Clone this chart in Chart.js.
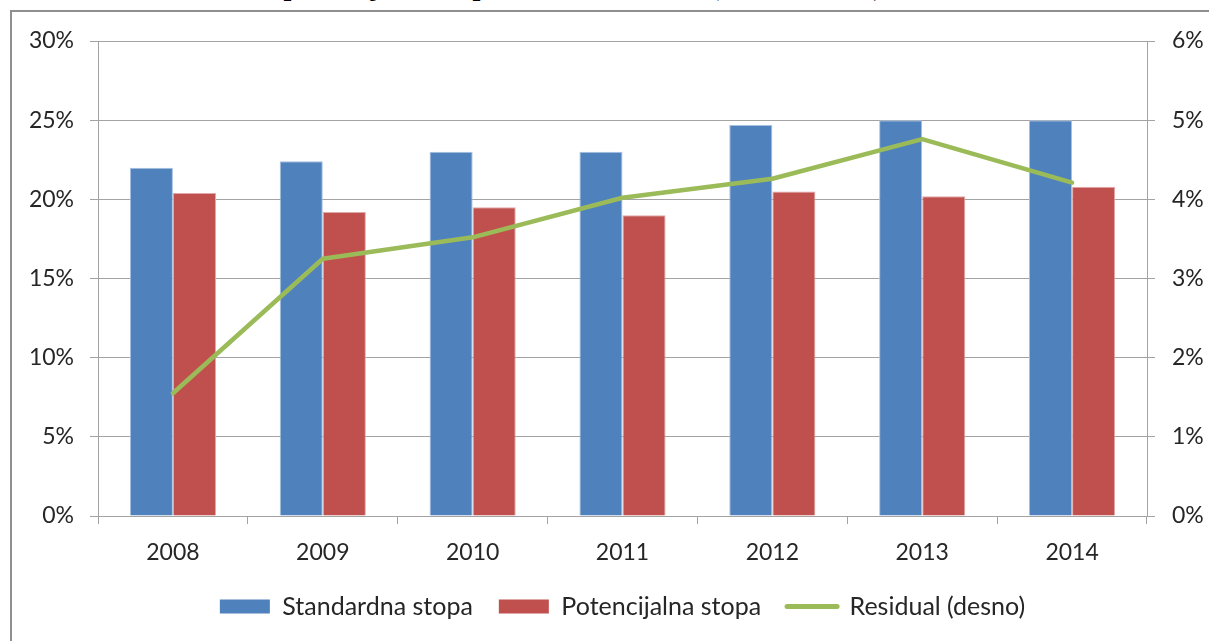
<!DOCTYPE html>
<html>
<head>
<meta charset="utf-8">
<script src="https://cdn.jsdelivr.net/npm/chart.js@4"></script>
<style>
  html, body { margin: 0; padding: 0; background: #fff; }
  #wrap { position: relative; width: 1209px; height: 641px; overflow: hidden; background: #fff; }
  #c { position: absolute; left: 0; top: 0; }
  #frame { position: absolute; left: 10px; top: 10px; width: 1300px; height: 700px;
           border-left: 2px solid #8f8f8f; border-top: 2px solid #8f8f8f; pointer-events: none; }
  #title { position: absolute; left: 120px; top: -30px; font: bold 28px "Liberation Serif", "Times New Roman", serif;
           color: #000; white-space: nowrap; line-height: 31px; }
</style>
</head>
<body>
<div id="wrap">
  <div id="title">Standardna i potencijalna stopa te rezidualni dio (2008. – 2014.)</div>
  <canvas id="c" width="1209" height="641"></canvas>
  <div id="frame"></div>
</div>
<script>
const categories = ['2008', '2009', '2010', '2011', '2012', '2013', '2014'];
const standardnaStopa = [22.0, 22.4, 23.0, 23.0, 24.7, 25.0, 25.0];
const potencijalnaStopa = [20.4, 19.2, 19.5, 19.0, 20.5, 20.2, 20.8];
const residualDesno = [1.55, 3.25, 3.52, 4.02, 4.26, 4.76, 4.21];
const leftTicks = [0, 5, 10, 15, 20, 25, 30];
const rightTicks = [0, 1, 2, 3, 4, 5, 6];
const seriesNames = ['Standardna stopa', 'Potencijalna stopa', 'Residual (desno)'];

const TICKFONT = { family: 'Lato, "Open Sans", sans-serif', size: 23 };
const LEGFONT = { family: 'Lato, "Open Sans", sans-serif', size: 25 };
const TXT = '#262626';
const GRID = '#a3a3a3';

const baseGen = (Chart.defaults.plugins.legend && Chart.defaults.plugins.legend.labels.generateLabels)
  || Chart.registry.getPlugin('legend').defaults.labels.generateLabels;

new Chart(document.getElementById('c'), {
  type: 'bar',
  data: {
    labels: categories,
    datasets: [
      { label: seriesNames[0], data: standardnaStopa, backgroundColor: '#4f81bd', borderColor: '#a7c0de',
        borderWidth: 1, categoryPercentage: 0.575, barPercentage: 1.0, yAxisID: 'y', order: 1 },
      { label: seriesNames[1], data: potencijalnaStopa, backgroundColor: '#c0504d', borderColor: '#e0a9a7',
        borderWidth: 1, categoryPercentage: 0.575, barPercentage: 1.0, yAxisID: 'y', order: 1 },
      { type: 'line', label: seriesNames[2], data: residualDesno, borderColor: '#9bbb59', backgroundColor: '#9bbb59',
        borderWidth: 4.5, pointRadius: 0, pointHoverRadius: 0, tension: 0, yAxisID: 'y1',
        borderCapStyle: 'round', borderJoinStyle: 'round', order: -1 }
    ]
  },
  options: {
    responsive: false,
    animation: false,
    layout: { padding: { top: 41, bottom: 12, left: 0, right: 0 } },
    plugins: {
      tooltip: { enabled: false },
      title: { display: false },
      legend: {
        position: 'bottom',
        fullSize: false,
        labels: {
          font: LEGFONT, color: TXT, boxWidth: 50, boxHeight: 14, usePointStyle: true, pointStyleWidth: 50,
          padding: 26,
          sort: (a, b) => a.datasetIndex - b.datasetIndex,
          generateLabels(chart) {
            const items = baseGen(chart);
            items.forEach(it => {
              const ds = chart.data.datasets[it.datasetIndex];
              if (ds.type === 'line') {
                it.pointStyle = 'line'; it.strokeStyle = ds.borderColor; it.lineWidth = 5; it.lineCap = 'round';
              } else {
                it.pointStyle = 'rect'; it.fillStyle = ds.backgroundColor; it.strokeStyle = ds.backgroundColor; it.lineWidth = 0;
              }
            });
            return items;
          }
        }
      }
    },
    scales: {
      x: {
        grid: { drawOnChartArea: false, color: GRID, tickLength: 8, offset: true },
        border: { color: GRID },
        ticks: { font: TICKFONT, color: TXT, padding: 15 },
        afterFit(s) { s.height = 52; }
      },
      y: {
        position: 'left', min: leftTicks[0], max: leftTicks[leftTicks.length - 1],
        afterBuildTicks(s) { s.ticks = leftTicks.map(v => ({ value: v })); },
        ticks: { font: TICKFONT, color: TXT, padding: 16, callback: v => v + '%' },
        grid: { color: GRID, tickLength: 8 },
        border: { color: GRID },
        afterFit(s) { s.width = 98; }
      },
      y1: {
        position: 'right', min: rightTicks[0], max: rightTicks[rightTicks.length - 1],
        afterBuildTicks(s) { s.ticks = rightTicks.map(v => ({ value: v })); },
        ticks: { font: TICKFONT, color: TXT, padding: 17, callback: v => v + '%' },
        grid: { drawOnChartArea: false, color: GRID, tickLength: 8 },
        border: { color: GRID },
        afterFit(s) { s.width = 62; }
      }
    }
  }
});
</script>
</body>
</html>
